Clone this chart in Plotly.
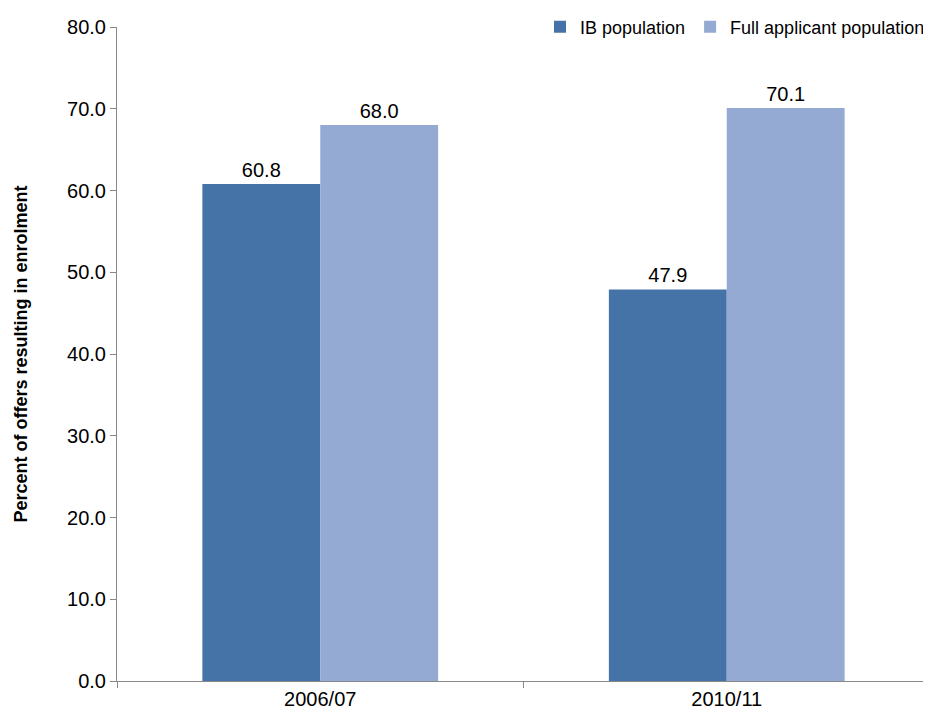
import plotly.graph_objects as go

categories = ["2006/07", "2010/11"]
ib_values = [60.8, 47.9]
full_values = [68.0, 70.1]

fig = go.Figure()
fig.add_bar(x=categories, y=ib_values, name="IB population", marker_color="#4673A7",
            marker_line_width=0,
            text=[f"{v:.1f}" for v in ib_values], textposition="outside",
            textfont=dict(size=20, color="#000"), cliponaxis=False)
fig.add_bar(x=categories, y=full_values, name="Full applicant population", marker_color="#95AAD2",
            marker_line_width=0,
            text=[f"{v:.1f}" for v in full_values], textposition="outside",
            textfont=dict(size=20, color="#000"), cliponaxis=False)

fig.update_layout(
    width=922, height=720, barmode="group", bargap=0.42, bargroupgap=0,
    plot_bgcolor="white", paper_bgcolor="white",
    margin=dict(l=109, r=0, t=12, b=47),
    font=dict(family="Liberation Sans, Arial", size=20, color="#000"),
    legend=dict(orientation="h", x=1.0, xanchor="right", y=1.0, yanchor="middle",
                font=dict(size=18), bgcolor="rgba(0,0,0,0)", traceorder="normal",
                itemwidth=30),
    xaxis=dict(showline=True, linecolor="#888", ticks="outside", ticklen=6,
               tickcolor="#888", showgrid=False, tickson="boundaries", automargin=False),
    yaxis=dict(range=[0, 80], dtick=10, tickformat=".1f", showline=True, linecolor="#888",
               ticks="outside", ticklen=6, tickcolor="#888", showgrid=False, automargin=False,
               title=dict(text="<b>Percent of offers resulting in enrolment</b>", font=dict(size=18), standoff=34)),
)
fig.write_html("out.html")
